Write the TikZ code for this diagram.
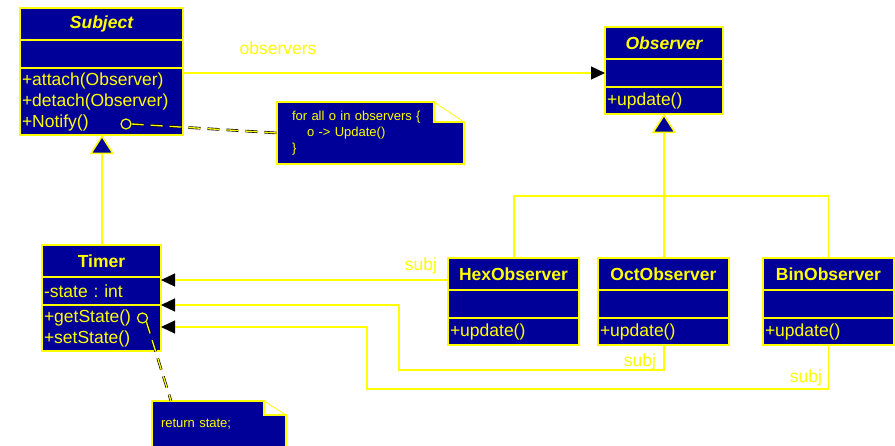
\documentclass[tikz,border=0pt]{standalone}
\usepackage{fontspec}
\setmainfont{Liberation Sans}
\usepackage{tikz}
\usetikzlibrary{positioning,arrows.meta,backgrounds}

\definecolor{umlblue}{RGB}{0,0,153}
\definecolor{umlyellow}{RGB}{255,255,0}

\tikzset{
  classname/.style={draw=umlyellow, fill=umlblue, line width=1.5pt, outer sep=0pt,
    minimum height=32pt, font=\fontsize{17.5}{21}\selectfont\bfseries},
  abstractname/.style={classname, font=\fontsize{17.5}{21}\selectfont\bfseries\itshape},
  classpart/.style={draw=umlyellow, fill=umlblue, line width=1.5pt, outer sep=0pt,
    inner xsep=2pt, inner ysep=0pt, minimum height=28pt, align=left},
  notebody/.style={inner xsep=15pt, inner ysep=0pt, outer sep=0pt, align=left,
    font=\fontsize{13}{16}\selectfont},
  noteshape/.style={draw=umlyellow, fill=umlblue, line width=1.5pt},
  inherit/.style={draw=umlyellow, line width=1.5pt,
    -{Triangle[length=19pt,width=24pt,fill=umlblue,line width=1.5pt]}},
  assoc/.style={draw=umlyellow, line width=1.2pt, -{Triangle[length=14pt,width=13pt,color=black]}},
  tree/.style={draw=umlyellow, line width=1.2pt},
  notelink/.style={draw=umlyellow, line width=1.3pt, dash pattern=on 12pt off 7pt,
    preaction={draw=black, line width=2.6pt, dash pattern=on 12pt off 7pt}},
  anchorring/.style={circle, draw=umlyellow, line width=1.2pt, minimum size=10pt, inner sep=0pt},
}

\begin{document}
\frenchspacing
\begin{tikzpicture}[x=1pt, y=-1pt,
    every node/.style={text=umlyellow, font=\fontsize{17.5}{21}\selectfont}]
  \useasboundingbox (0,0) rectangle (895,445);

  % Subject
  \node[abstractname, minimum width=163pt] (subject) at (101.5,24) {Subject};
  \node[classpart, text width=159pt, below=0pt of subject] (subject-attr) {};
  \node[classpart, text width=159pt, minimum height=67pt, below=0pt of subject-attr] (subject-ops)
    {+attach(Observer)\\+detach(Observer)\\+Notify()};

  % Observer
  \node[abstractname, minimum width=118pt] (observer) at (664,43) {Observer};
  \node[classpart, text width=114pt, below=0pt of observer] (observer-attr) {};
  \node[classpart, text width=114pt, minimum height=27pt, below=0pt of observer-attr] (observer-ops) {+update()};

  % Timer
  \node[classname, minimum width=119pt] (timer) at (101.5,261) {Timer};
  \node[classpart, text width=115pt, below=0pt of timer] (timer-attr) {-state : int};
  \node[classpart, text width=115pt, minimum height=46pt, below=0pt of timer-attr] (timer-ops)
    {+getState()\\+setState()};

  % concrete observers
  \node[classname, minimum width=131pt] (hexobs) at (513.5,274) {HexObserver};
  \node[classpart, text width=127pt, below=0pt of hexobs] (hexobs-attr) {};
  \node[classpart, text width=127pt, minimum height=27pt, below=0pt of hexobs-attr] (hexobs-ops) {+update()};

  \node[classname, minimum width=131pt] (octobs) at (663.5,274) {OctObserver};
  \node[classpart, text width=127pt, below=0pt of octobs] (octobs-attr) {};
  \node[classpart, text width=127pt, minimum height=27pt, below=0pt of octobs-attr] (octobs-ops) {+update()};

  \node[classname, minimum width=131pt] (binobs) at (828.5,274) {BinObserver};
  \node[classpart, text width=127pt, below=0pt of binobs] (binobs-attr) {};
  \node[classpart, text width=127pt, minimum height=27pt, below=0pt of binobs-attr] (binobs-ops) {+update()};

  % notes
  \node[notebody, text width=157pt, minimum height=62pt] (loopnote) at (370.5,133)
    {for all o in observers \{\\\hspace*{15pt}o -> Update()\\\}};
  \node[notebody, inner xsep=9pt, text width=116pt, minimum height=46pt] (statenote) at (219,424)
    {return state;};
  \begin{scope}[on background layer]
    \draw[noteshape] (loopnote.north west) -- ([xshift=-30pt]loopnote.north east)
      |- ([yshift=-20pt]loopnote.north east) -- (loopnote.south east) -- (loopnote.south west) -- cycle;
    \draw[noteshape] (statenote.north west) -- ([xshift=-22pt]statenote.north east)
      |- ([yshift=-14pt]statenote.north east) -- (statenote.south east) -- (statenote.south west) -- cycle;
  \end{scope}
  \draw[umlyellow, line width=0.8pt] ([xshift=-30pt]loopnote.north east) -- ([yshift=-20pt]loopnote.north east);
  \draw[umlyellow, line width=0.8pt] ([xshift=-22pt]statenote.north east) -- ([yshift=-14pt]statenote.north east);

  % note links
  \node[anchorring] (notifyring) at (126,124) {};
  \draw[notelink] (notifyring.east) -- (loopnote.west);
  \node[anchorring] (statering) at (142.5,318) {};
  \draw[notelink] (statering.south east) -- ([xshift=19pt]statenote.north west);

  % generalizations
  \draw[inherit] ([xshift=0.5pt]timer.north) -- ([xshift=0.5pt]subject-ops.south);
  \coordinate (branch) at (664,196);
  \draw[inherit] (branch) -- (observer-ops.south);
  \draw[tree] (binobs.north) |- (branch);
  \draw[tree] ([xshift=0.5pt]hexobs.north) |- (branch);
  \draw[tree] ([xshift=0.5pt]octobs.north) -- ([xshift=0.5pt]octobs.north |- branch);

  % associations
  \draw[assoc] (subject-ops.east |- observer-attr.west) -- (observer-attr.west);
  \node (obslabel) at (278,48) {observers};
  \draw[assoc] ([yshift=-6pt]hexobs.west) -- ([yshift=-6pt]hexobs.west -| timer-attr.east);
  \node (hexsubj) at (421,266) {subj};
  \draw[assoc] ([xshift=0.5pt]octobs-ops.south) |- (399,370) |- (timer-ops.north east);
  \node (octsubj) at (640,362) {subj};
  \draw[assoc] (binobs-ops.south) |- (367,389) |- ([yshift=-22pt]timer-ops.north east);
  \node (binsubj) at (806,378) {subj};
\end{tikzpicture}
\end{document}
